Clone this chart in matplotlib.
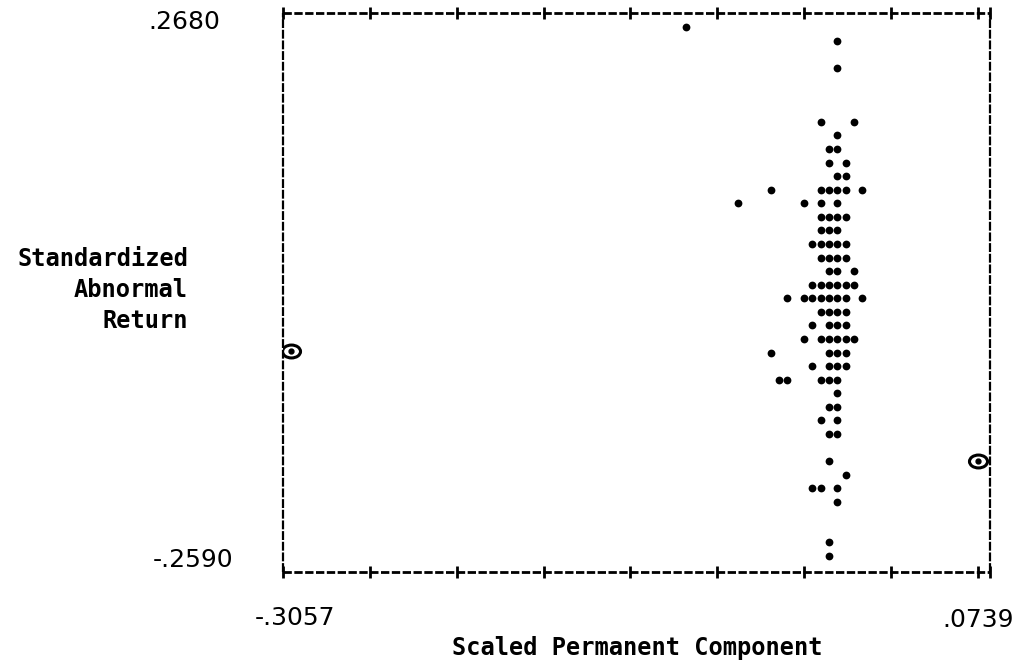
import numpy as np
import matplotlib
matplotlib.use('Agg')
import matplotlib.pyplot as plt
from matplotlib.path import Path
from matplotlib.transforms import Affine2D

# scatter points (printer-plot style), listed row by row from the top
x_vals = [-0.0874,
          -0.0040,
          -0.0040,
          -0.0129, 0.0054,
          -0.0040,
          -0.0084, -0.0040,
          -0.0084, 0.0010,
          -0.0040, 0.0010,
          -0.0405, -0.0129, -0.0084, -0.0040, 0.0010, 0.0098,
          -0.0587, -0.0222, -0.0129, -0.0040,
          -0.0129, -0.0084, -0.0040, 0.0010,
          -0.0129, -0.0084, -0.0040,
          -0.0178, -0.0129, -0.0084, -0.0040, 0.0010,
          -0.0129, -0.0084, -0.0040, 0.0010,
          -0.0084, -0.0040, 0.0054,
          -0.0178, -0.0129, -0.0084, -0.0040, 0.0010, 0.0054,
          -0.0316, -0.0222, -0.0178, -0.0129, -0.0084, -0.0040, 0.0010, 0.0098,
          -0.0129, -0.0084, -0.0040, 0.0010,
          -0.0178, -0.0084, -0.0040, 0.0010,
          -0.0222, -0.0129, -0.0084, -0.0040, 0.0010, 0.0054,
          -0.0405, -0.0084, -0.0040, 0.0010,
          -0.0178, -0.0084, -0.0040, 0.0010,
          -0.0361, -0.0316, -0.0129, -0.0084, -0.0040,
          -0.0040,
          -0.0084, -0.0040,
          -0.0129, -0.0040,
          -0.0084, -0.0040,
          -0.0084,
          0.0010,
          -0.0178, -0.0129, -0.0040,
          -0.0040,
          -0.0084,
          -0.0084]
y_vals = [0.2680,
          0.2545,
          0.2275,
          0.1734, 0.1734,
          0.1599,
          0.1464, 0.1464,
          0.1329, 0.1329,
          0.1194, 0.1194,
          0.1058, 0.1058, 0.1058, 0.1058, 0.1058, 0.1058,
          0.0923, 0.0923, 0.0923, 0.0923,
          0.0788, 0.0788, 0.0788, 0.0788,
          0.0653, 0.0653, 0.0653,
          0.0518, 0.0518, 0.0518, 0.0518, 0.0518,
          0.0383, 0.0383, 0.0383, 0.0383,
          0.0248, 0.0248, 0.0248,
          0.0113, 0.0113, 0.0113, 0.0113, 0.0113, 0.0113,
          -0.0023, -0.0023, -0.0023, -0.0023, -0.0023, -0.0023, -0.0023, -0.0023,
          -0.0158, -0.0158, -0.0158, -0.0158,
          -0.0293, -0.0293, -0.0293, -0.0293,
          -0.0428, -0.0428, -0.0428, -0.0428, -0.0428, -0.0428,
          -0.0563, -0.0563, -0.0563, -0.0563,
          -0.0698, -0.0698, -0.0698, -0.0698,
          -0.0833, -0.0833, -0.0833, -0.0833, -0.0833,
          -0.0969,
          -0.1104, -0.1104,
          -0.1239, -0.1239,
          -0.1374, -0.1374,
          -0.1644,
          -0.1779,
          -0.1914, -0.1914, -0.1914,
          -0.2049,
          -0.2455,
          -0.2590]

# circled extreme points
circled_x = [-0.3057, 0.0739]
circled_y = [-0.0549, -0.1644]

x_min_label = '-.3057'
x_max_label = '.0739'
y_max_label = '.2680'
y_min_label = '-.2590'

W, H = 1021, 666
fig = plt.figure(figsize=(W / 100, H / 100), dpi=100)
ax = fig.add_axes([283 / W, 1 - 572 / H, 707 / W, 559 / H])
ax.set_xlim(-0.3101, 0.0805)
ax.set_ylim(-0.2749, 0.2819)
ax.axis('off')

ax.plot(x_vals, y_vals, 'o', color='black', markersize=5.6, markeredgewidth=0)

# elliptical ring marker for the circled points
ring = Path.unit_circle().transformed(Affine2D().scale(1.4, 1.0))
ax.plot(circled_x, circled_y, linestyle='none', marker=ring, markersize=13,
        markerfacecolor='none', markeredgecolor='black', markeredgewidth=2.2)
ax.plot(circled_x, circled_y, 'o', color='black', markersize=3.5)

# dashed printer-style border
tr = ax.transAxes
dash = (0, (3, 0.9))
ax.plot([0, 1], [1, 1], color='black', lw=2, ls=dash, transform=tr, clip_on=False)
ax.plot([0, 1], [0, 0], color='black', lw=2, ls=dash, transform=tr, clip_on=False)
ax.plot([0, 0], [0, 1], color='black', lw=1.6, ls=(0, (4, 0.8)), transform=tr, clip_on=False)
ax.plot([1, 1], [0, 1], color='black', lw=1.6, ls=(0, (4, 0.8)), transform=tr, clip_on=False)

tick_pos = list(np.linspace(0, 0.983, 9)) + [1.0]
for yy in (0, 1):
    ax.plot(tick_pos, [yy] * len(tick_pos), linestyle='none', marker='|',
            markersize=9, markeredgewidth=2, color='black',
            transform=tr, clip_on=False)

# labels
tick_font = dict(family='DejaVu Sans', size=18, weight='medium', color='black')
fig.text(220 / W, 1 - 22 / H, y_max_label, ha='right', va='center', **tick_font)
fig.text(233 / W, 1 - 560 / H, y_min_label, ha='right', va='center', **tick_font)
fig.text(295 / W, 1 - 618 / H, x_min_label, ha='center', va='center', **tick_font)
fig.text(978 / W, 1 - 620 / H, x_max_label, ha='center', va='center', **tick_font)

lab_font = dict(family='DejaVu Sans Mono', size=17, weight='bold', color='black')
fig.text(637 / W, 1 - 648 / H, 'Scaled Permanent Component', ha='center', va='center', **lab_font)
for yy, s in zip([259, 290, 321], ['Standardized', 'Abnormal', 'Return']):
    fig.text(188 / W, 1 - yy / H, s, ha='right', va='center', **lab_font)

fig.savefig('out.png', dpi=100, facecolor='white')
